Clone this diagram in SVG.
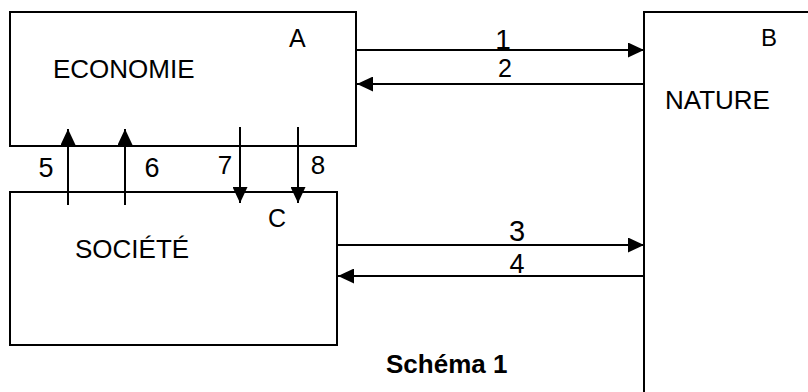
<svg xmlns="http://www.w3.org/2000/svg" width="808" height="392" viewBox="0 0 808 392">
  <style>
    .box { fill: #ffffff; stroke: #000000; stroke-width: 2; }
    .lbl { font-family: "Liberation Sans", Arial, sans-serif; font-size: 26px; fill: #000000; }
    .corner { font-family: "Liberation Sans", Arial, sans-serif; font-size: 25px; fill: #000000; }
    .num { font-family: "Liberation Sans", Arial, sans-serif; font-size: 27px; fill: #000000; text-anchor: middle; }
    .title { font-family: "Liberation Sans", Arial, sans-serif; font-size: 26px; font-weight: bold; fill: #000000; }
    .conn { stroke: #000000; stroke-width: 2; fill: none; marker-end: url(#arrow); }
  </style>
  <defs>
    <marker id="arrow" markerUnits="userSpaceOnUse" markerWidth="16" markerHeight="15" refX="16" refY="7.5" orient="auto">
      <path d="M0,0 L16,7.5 L0,15 Z" fill="#000000"/>
    </marker>
  </defs>
  <rect width="808" height="392" fill="#ffffff"/>

  <g id="node-economie">
    <rect class="box" x="10" y="12" width="346" height="134"/>
    <text class="lbl" x="53" y="78">ECONOMIE</text>
    <text class="corner" x="289" y="47">A</text>
  </g>

  <g id="node-nature">
    <rect class="box" x="644" y="12" width="220" height="400"/>
    <text class="lbl" x="665" y="109">NATURE</text>
    <text class="corner" x="761" y="46" style="font-size:24px">B</text>
  </g>

  <g id="node-societe">
    <rect class="box" x="10" y="192" width="327" height="153"/>
    <text class="lbl" x="75" y="258">SOCIÉTÉ</text>
    <text class="corner" x="268" y="227">C</text>
  </g>

  <g id="connectors">
    <line class="conn" x1="357" y1="50" x2="644" y2="50"/>
    <line class="conn" x1="644" y1="84" x2="357" y2="84"/>
    <line class="conn" x1="338" y1="245" x2="644" y2="245"/>
    <line class="conn" x1="644" y1="276" x2="338" y2="276"/>
    <line class="conn" x1="68" y1="205" x2="68" y2="129"/>
    <line class="conn" x1="125" y1="205" x2="125" y2="129"/>
    <line class="conn" x1="240" y1="127" x2="240" y2="203"/>
    <line class="conn" x1="298" y1="127" x2="298" y2="203"/>
  </g>

  <g id="connector-labels">
    <text class="num" x="503" y="49" style="font-size:28px">1</text>
    <text class="num" x="505" y="77" style="font-size:25px">2</text>
    <text class="num" x="517" y="241" style="font-size:29px">3</text>
    <text class="num" x="517" y="273">4</text>
    <text class="num" x="46" y="177">5</text>
    <text class="num" x="152" y="177">6</text>
    <text class="num" x="225" y="174" style="font-size:26px">7</text>
    <text class="num" x="318" y="174" style="font-size:26px">8</text>
  </g>

  <text class="title" x="386" y="373">Schéma 1</text>
</svg>
